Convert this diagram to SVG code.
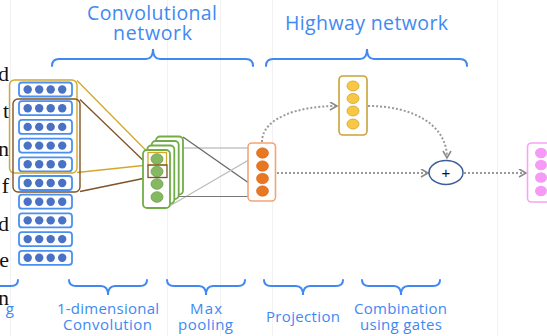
<svg xmlns="http://www.w3.org/2000/svg" width="547" height="336" viewBox="0 0 547 336">
<style>
.bg{stroke:#f2f2f2;stroke-width:1}
.para{font-family:"Liberation Serif",serif;font-size:22px;fill:#111}
.ttl{font-family:"Open Sans",sans-serif;font-size:19.5px;fill:#4189f2;text-anchor:middle}
.lbl{font-family:"Open Sans",sans-serif;font-size:15px;fill:#4189f2;text-anchor:middle}
.brace{fill:none;stroke:#4189f2;stroke-width:2;stroke-linecap:round}
.inbox{fill:#fff;stroke:#4a90f0;stroke-width:1.8}
.indot{fill:#4a72c4}
.conv{fill:#fff;stroke:#70ad47;stroke-width:1.8}
.gdot{fill:#84b861;stroke:#6e9f4c;stroke-width:0.8}
.odot{fill:#e87722;stroke:#d0661a;stroke-width:0.6}
.ydot{fill:#f8c745;stroke:#d6a22a;stroke-width:0.8}
.pdot{fill:#f79af7}
.dot{fill:none;stroke:#9a9a9a;stroke-width:2;stroke-dasharray:2 2}
</style>
<defs>
<marker id="arr" markerUnits="userSpaceOnUse" markerWidth="10" markerHeight="10" refX="8" refY="4.5" orient="auto">
<path d="M1,0.5 L8,4.5 L1,8.5" fill="none" stroke="#8a8a8a" stroke-width="1.6"/>
</marker>
</defs>
<rect width="547" height="336" fill="#fff"/>
<g id="grid">
<line class="bg" x1="10.5" y1="0" x2="10.5" y2="336"/>
<line class="bg" x1="167.5" y1="0" x2="167.5" y2="336"/>
<line class="bg" x1="220.5" y1="0" x2="220.5" y2="336"/>
<line class="bg" x1="272.5" y1="0" x2="272.5" y2="336"/>
<line class="bg" x1="497.5" y1="0" x2="497.5" y2="336"/>
</g>
<g id="paragraph">
<text class="para" x="9" y="81" text-anchor="end">d</text>
<text class="para" x="9" y="118" text-anchor="end">t</text>
<text class="para" x="9" y="156" text-anchor="end">n</text>
<text class="para" x="9" y="193" text-anchor="end">f</text>
<text class="para" x="9" y="231" text-anchor="end">d</text>
<text class="para" x="9" y="267" text-anchor="end">e</text>
<text class="para" x="9" y="305" text-anchor="end">n</text>
</g>
<g id="titles">
<text class="ttl" x="152" y="20" textLength="130">Convolutional</text>
<text class="ttl" x="152.5" y="40" textLength="79">network</text>
<text class="ttl" x="366.5" y="30" textLength="163">Highway network</text>
<path class="brace" d="M52,66 Q52,59 59,59 L146,59 Q153,59 153,49 Q153,59 160,59 L246,59 Q253,59 253,66"/>
<path class="brace" d="M266,66 Q266,59 273,59 L360,59 Q367,59 367,49 Q367,59 374,59 L460,59 Q467,59 467,66"/>
</g>
<g id="bottom-labels">
<path class="brace" d="M18,280 Q18,286 11,286 L0,286"/>
<path class="brace" d="M69,280 Q69,286 76,286 L101,286 Q108,286 108,295 Q108,286 115,286 L140,286 Q147,286 147,280"/>
<path class="brace" d="M167,280 Q167,286 174,286 L199,286 Q206,286 206,295 Q206,286 213,286 L238,286 Q245,286 245,280"/>
<path class="brace" d="M264,280 Q264,286 271,286 L296,286 Q303,286 303,295 Q303,286 310,286 L336,286 Q343,286 343,280"/>
<path class="brace" d="M362,280 Q362,286 369,286 L394,286 Q401,286 401,295 Q401,286 408,286 L433,286 Q440,286 440,280"/>
<text class="lbl" x="14" y="314" style="text-anchor:end">g</text>
<text class="lbl" x="108" y="314" textLength="102">1-dimensional</text>
<text class="lbl" x="107.5" y="330" textLength="89">Convolution</text>
<text class="lbl" x="206" y="314" textLength="32">Max</text>
<text class="lbl" x="205.5" y="330" textLength="55">pooling</text>
<text class="lbl" x="303" y="322" textLength="74">Projection</text>
<text class="lbl" x="400.5" y="314" textLength="93">Combination</text>
<text class="lbl" x="401" y="330" textLength="82">using gates</text>
</g>
<g id="connectors">
<line x1="77" y1="80.5" x2="148" y2="152.5" stroke="#d4a72c" stroke-width="1.3"/>
<line x1="77" y1="172.5" x2="148" y2="165" stroke="#d4a72c" stroke-width="1.3"/>
<line x1="80" y1="99.5" x2="148" y2="165" stroke="#7f5325" stroke-width="1.3"/>
<line x1="80" y1="191.5" x2="148" y2="177.5" stroke="#7f5325" stroke-width="1.3"/>
<line x1="172" y1="148" x2="258" y2="148" stroke="#c4c4c4" stroke-width="1.3"/>
<line x1="183" y1="137" x2="259" y2="190" stroke="#666" stroke-width="1.2"/>
<line x1="168" y1="207" x2="259" y2="154" stroke="#bdbdbd" stroke-width="1.2"/>
<line x1="170" y1="196.5" x2="258" y2="196.5" stroke="#777" stroke-width="1.2"/>
<path class="dot" d="M262,142 C262,118 298,106 337,106" marker-end="url(#arr)"/>
<path class="dot" d="M368,106 C412,106 447,124 447,158" marker-end="url(#arr)"/>
<line class="dot" x1="277" y1="173" x2="428" y2="173" marker-end="url(#arr)"/>
<line class="dot" x1="464" y1="173" x2="526" y2="173" marker-end="url(#arr)"/>
</g>
<g id="input-stack">
<rect class="inbox" x="19" y="82.5" width="53" height="14" rx="3"/>
<rect class="inbox" x="19" y="101.2" width="53" height="14" rx="3"/>
<rect class="inbox" x="19" y="119.9" width="53" height="14" rx="3"/>
<rect class="inbox" x="19" y="138.6" width="53" height="14" rx="3"/>
<rect class="inbox" x="19" y="157.3" width="53" height="14" rx="3"/>
<rect class="inbox" x="19" y="176" width="53" height="14" rx="3"/>
<rect class="inbox" x="19" y="194.7" width="53" height="14" rx="3"/>
<rect class="inbox" x="19" y="213.4" width="53" height="14" rx="3"/>
<rect class="inbox" x="19" y="232.1" width="53" height="14" rx="3"/>
<rect class="inbox" x="19" y="250.8" width="53" height="14" rx="3"/>
<g class="indot">
<circle cx="27.7" cy="89.5" r="4.2"/><circle cx="39.2" cy="89.5" r="4.2"/><circle cx="50.7" cy="89.5" r="4.2"/><circle cx="62.2" cy="89.5" r="4.2"/>
<circle cx="27.7" cy="108.2" r="4.2"/><circle cx="39.2" cy="108.2" r="4.2"/><circle cx="50.7" cy="108.2" r="4.2"/><circle cx="62.2" cy="108.2" r="4.2"/>
<circle cx="27.7" cy="126.9" r="4.2"/><circle cx="39.2" cy="126.9" r="4.2"/><circle cx="50.7" cy="126.9" r="4.2"/><circle cx="62.2" cy="126.9" r="4.2"/>
<circle cx="27.7" cy="145.6" r="4.2"/><circle cx="39.2" cy="145.6" r="4.2"/><circle cx="50.7" cy="145.6" r="4.2"/><circle cx="62.2" cy="145.6" r="4.2"/>
<circle cx="27.7" cy="164.3" r="4.2"/><circle cx="39.2" cy="164.3" r="4.2"/><circle cx="50.7" cy="164.3" r="4.2"/><circle cx="62.2" cy="164.3" r="4.2"/>
<circle cx="27.7" cy="183" r="4.2"/><circle cx="39.2" cy="183" r="4.2"/><circle cx="50.7" cy="183" r="4.2"/><circle cx="62.2" cy="183" r="4.2"/>
<circle cx="27.7" cy="201.7" r="4.2"/><circle cx="39.2" cy="201.7" r="4.2"/><circle cx="50.7" cy="201.7" r="4.2"/><circle cx="62.2" cy="201.7" r="4.2"/>
<circle cx="27.7" cy="220.4" r="4.2"/><circle cx="39.2" cy="220.4" r="4.2"/><circle cx="50.7" cy="220.4" r="4.2"/><circle cx="62.2" cy="220.4" r="4.2"/>
<circle cx="27.7" cy="239.1" r="4.2"/><circle cx="39.2" cy="239.1" r="4.2"/><circle cx="50.7" cy="239.1" r="4.2"/><circle cx="62.2" cy="239.1" r="4.2"/>
<circle cx="27.7" cy="257.8" r="4.2"/><circle cx="39.2" cy="257.8" r="4.2"/><circle cx="50.7" cy="257.8" r="4.2"/><circle cx="62.2" cy="257.8" r="4.2"/>
</g>
<rect x="9.5" y="80" width="67.5" height="93" rx="5" fill="none" stroke="#d4a72c" stroke-width="1.4"/>
<rect x="13" y="99" width="67" height="93" rx="5" fill="none" stroke="#7f5325" stroke-width="1.4"/>
</g>
<g id="conv-stack">
<rect class="conv" x="156" y="136.5" width="27" height="58" rx="4"/>
<rect class="conv" x="151.7" y="141" width="27" height="58" rx="4"/>
<rect class="conv" x="147.3" y="145.5" width="27" height="58" rx="4"/>
<rect class="conv" x="143" y="150" width="27" height="58" rx="4"/>
<ellipse class="gdot" cx="157" cy="159" rx="6" ry="5.3"/>
<ellipse class="gdot" cx="157" cy="171.5" rx="6" ry="5.3"/>
<ellipse class="gdot" cx="157" cy="184" rx="6" ry="5.3"/>
<ellipse class="gdot" cx="157" cy="197" rx="6" ry="5.3"/>
<rect x="148" y="152.5" width="18.5" height="12.5" fill="none" stroke="#d4a72c" stroke-width="1.3"/>
<rect x="148" y="165" width="19" height="12.5" fill="none" stroke="#7f5325" stroke-width="1.3"/>
</g>
<g id="projection">
<rect x="248" y="143" width="27.5" height="58" rx="4" fill="#fff" stroke="#f4a574" stroke-width="1.6"/>
<ellipse class="odot" cx="262.5" cy="153" rx="6" ry="5.2"/>
<ellipse class="odot" cx="262.5" cy="166" rx="6" ry="5.2"/>
<ellipse class="odot" cx="262.5" cy="178.5" rx="6" ry="5.2"/>
<ellipse class="odot" cx="262.5" cy="191" rx="6" ry="5.2"/>
</g>
<g id="gate">
<rect x="339" y="76" width="28" height="59" rx="4" fill="#fff" stroke="#c9a23a" stroke-width="1.6"/>
<ellipse class="ydot" cx="353" cy="86" rx="6" ry="5"/>
<ellipse class="ydot" cx="353" cy="98.5" rx="6" ry="5"/>
<ellipse class="ydot" cx="353" cy="111" rx="6" ry="5"/>
<ellipse class="ydot" cx="353" cy="124" rx="6" ry="5"/>
</g>
<g id="combine">
<ellipse cx="446" cy="172.5" rx="17" ry="12" fill="#fff" stroke="#3d5f99" stroke-width="1.5"/>
<text x="446" y="178" text-anchor="middle" font-family="Liberation Sans, sans-serif" font-size="15" fill="#111">+</text>
</g>
<g id="output">
<rect x="527.5" y="143" width="34" height="59" rx="4" fill="#fff" stroke="#f7a3f7" stroke-width="1.6"/>
<ellipse class="pdot" cx="541" cy="153" rx="6" ry="5.3"/>
<ellipse class="pdot" cx="541" cy="165" rx="6" ry="5.3"/>
<ellipse class="pdot" cx="541" cy="177.5" rx="6" ry="5.3"/>
<ellipse class="pdot" cx="541" cy="191" rx="6" ry="5.3"/>
</g>
</svg>
